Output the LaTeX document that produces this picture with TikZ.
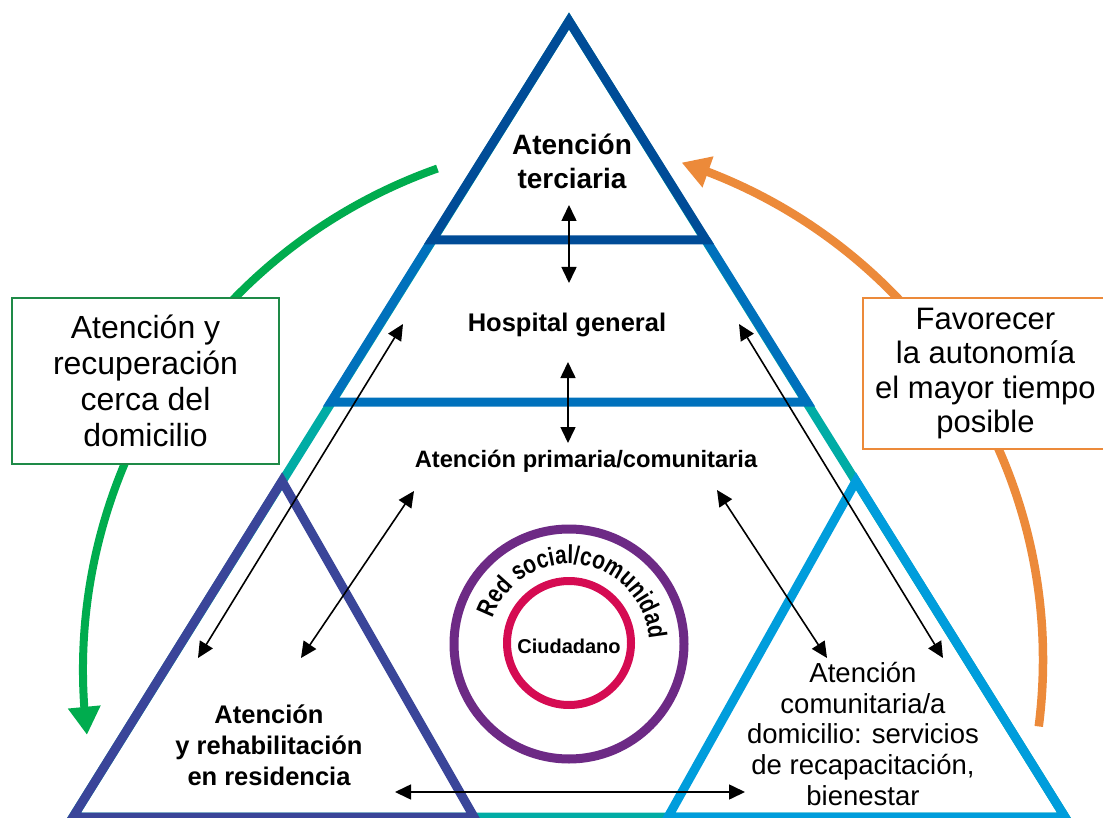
\documentclass[tikz,border=0pt]{standalone}
\usepackage{fontspec}
\setmainfont{Liberation Sans}
\newfontfamily\ringfont[FakeStretch=0.8]{Liberation Sans Bold}
\usetikzlibrary{arrows.meta,bending,decorations.text,calc}
\definecolor{navyline}{RGB}{0,76,151}
\definecolor{midblue}{RGB}{0,113,188}
\definecolor{tealline}{RGB}{0,172,165}
\definecolor{indigoline}{RGB}{58,69,153}
\definecolor{skyline}{RGB}{0,157,220}
\definecolor{ringpurple}{RGB}{109,42,133}
\definecolor{ringred}{RGB}{213,11,82}
\definecolor{arcgreen}{RGB}{0,172,78}
\definecolor{boxgreen}{RGB}{30,138,71}
\definecolor{arcorange}{RGB}{236,138,58}
\begin{document}
\begin{tikzpicture}[x=1pt,y=-1pt,line join=miter,
  edge/.style={line width=9pt},
  link/.style={line width=1.6pt,{Triangle[width=15pt,length=16pt]}-{Triangle[width=15pt,length=16pt]}},
  boldlabel/.style={align=center,inner sep=0pt,font=\bfseries#1},
  plainlabel/.style={align=center,inner sep=0pt,font=#1},
  sidebox/.style={draw=#1,line width=2.5pt,fill=white,align=center,inner sep=0pt}]
\useasboundingbox (0,0) rectangle (1103,818);

% outer pyramid corners
\coordinate (apex) at (569,21);
\coordinate (bl) at (73,817);
\coordinate (br) at (1065,817);
\coordinate (tl) at (432,240);
\coordinate (tr) at (706,240);
\coordinate (ml) at (331,402);
\coordinate (mr) at (807,402);
% corner triangles
\coordinate (la) at (282,481);
\coordinate (lr) at (474,817);
\coordinate (ra) at (856,481);
\coordinate (rl) at (668,817);

% pyramid outline and levels
\draw[edge,tealline] (apex) -- (bl) -- (br) -- cycle;
\draw[edge,midblue] (tl) -- (ml) -- (mr) -- (tr);
\draw[edge,navyline] (apex) -- (tl) -- (tr) -- cycle;
\draw[edge,indigoline] (la) -- (bl) -- (lr) -- cycle;
\draw[edge,skyline] (ra) -- (rl) -- (br) -- cycle;

% rings
\coordinate (ringc) at (569,644);
\draw[line width=9pt,ringpurple] (ringc) circle[radius=115];
\draw[line width=8pt,ringred] (569,643) circle[radius=62];
\path[decorate,decoration={text along path,text align=center,
  text={|\ringfont\fontsize{26}{26}\selectfont|Red social/comunidad}}]
  ($(ringc)+(193:80)$) arc[start angle=193,end angle=362,radius=80];

% labels
\node[boldlabel=\fontsize{28}{34}\selectfont] (terc) at (572,161) {Atención\\terciaria};
\node[boldlabel=\fontsize{25.5}{30}\selectfont] (hosp) at (567,325) {Hospital general};
\node[boldlabel=\fontsize{23.7}{28}\selectfont] (prim) at (586,461) {Atención primaria/comunitaria};
\node[boldlabel=\fontsize{25.5}{31}\selectfont] (resi) at (269,745) {Atención\\y rehabilitación\\en residencia};
\node[plainlabel=\fontsize{27.5}{30.75}\selectfont] (domi) at (863,734) {Atención\\comunitaria/a\\domicilio: servicios\\de recapacitación,\\bienestar};
\node[boldlabel=\fontsize{20}{24}\selectfont] (ciud) at (569,646) {Ciudadano};

% two-way links between levels
\coordinate (a1) at (569,205); \coordinate (b1) at (569,283);
\coordinate (a2) at (568,362); \coordinate (b2) at (568,443);
\coordinate (a3) at (403,324); \coordinate (b3) at (198,658);
\coordinate (a4) at (414,491); \coordinate (b4) at (301,658);
\coordinate (a5) at (717,490); \coordinate (b5) at (827,658);
\coordinate (a6) at (739,324); \coordinate (b6) at (943,658);
\coordinate (a7) at (395,792); \coordinate (b7) at (745,792);
\foreach \i in {1,...,7} \draw[link] (a\i) -- (b\i);

% side arcs
\coordinate (gc) at (615,670);
\coordinate (oc) at (520,660);
\draw[line width=8pt,arcgreen,-{Triangle[width=31pt,length=28pt]}]
  ($(gc)+(250.5:532)$) arc[start angle=250.5,end angle=173,radius=532];
\draw[line width=8.5pt,arcorange,-{Triangle[width=31pt,length=28pt]}]
  ($(oc)+(7.3:523)$) arc[start angle=7.3,end angle=-72,radius=523];

% side boxes
\node[sidebox=boxgreen,minimum width=267pt,minimum height=166pt,font=\fontsize{32}{36}\selectfont]
  (gbox) at (145.5,381) {Atención y\\recuperación\\cerca del\\domicilio};
\node[sidebox=arcorange,minimum width=245pt,minimum height=151pt,font=\fontsize{31}{34.3}\selectfont]
  (obox) at (985.5,373.5) {Favorecer\\la autonomía\\el mayor tiempo\\posible};
\end{tikzpicture}
\end{document}
